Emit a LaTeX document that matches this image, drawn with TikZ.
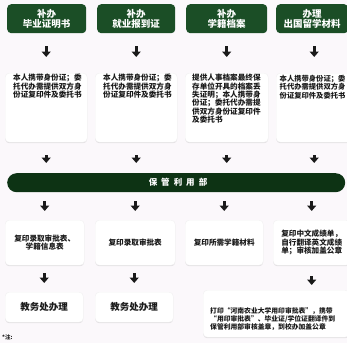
\documentclass[tikz,border=0pt]{standalone}
\usepackage{fontspec}
\setmainfont{Noto Sans CJK SC}
\usetikzlibrary{arrows.meta,shadows}
\definecolor{hdr}{HTML}{1B4E26}
\definecolor{bandc}{HTML}{0D3314}
\definecolor{bgc}{HTML}{FBF8FB}
\definecolor{ink}{HTML}{1A1A1A}
\tikzset{
  hdrbox/.style={fill=hdr, rounded corners=4pt, anchor=north west, inner sep=0pt,
    text=white, font=\fontsize{9.5}{10}\selectfont\bfseries, align=center},
  cardbox/.style={fill=white, draw=black!5, rounded corners=4pt, anchor=north west, inner sep=0pt,
    drop shadow={shadow xshift=0pt, shadow yshift=-1pt, opacity=0.10, fill=black}},
  cardtext/.style={anchor=north west, inner sep=0pt, text=ink, align=left,
    font=\fontsize{7.6}{8.4}\selectfont\bfseries},
  midtext/.style={text=ink, font=\fontsize{7.6}{8.6}\selectfont\bfseries},
  endtext/.style={text=ink, font=\fontsize{9.5}{10}\selectfont\bfseries},
  arr/.style={-{Triangle[width=9pt,length=5.5pt]}, line width=2.6pt, draw=ink},
}
\begin{document}
\begin{tikzpicture}[x=1pt,y=-1pt]
\fill[bgc] (0,0) rectangle (347,343);
\useasboundingbox (0,0) rectangle (347,343);

% headers
\node[hdrbox, minimum width=79pt, minimum height=29pt] (h1) at (7,4) {补办\\毕业证明书};
\node[hdrbox, minimum width=78pt, minimum height=29pt] (h2) at (97,4) {补办\\就业报到证};
\node[hdrbox, minimum width=81pt, minimum height=29pt] (h3) at (186,4) {补办\\学籍档案};
\node[hdrbox, minimum width=72pt, minimum height=29pt] (h4) at (276,4) {办理\\出国留学材料};

% row 1 cards
\node[cardbox, minimum width=82pt, minimum height=69pt] (c1) at (5,73) {};
\node[cardbox, minimum width=82pt, minimum height=69pt] (c2) at (95,73) {};
\node[cardbox, minimum width=83pt, minimum height=69pt] (c3) at (185,73) {};
\node[cardbox, minimum width=76pt, minimum height=69pt] (c4) at (276,73) {};
\node[cardtext] (t1) at (13,74) {本人携带身份证；委\\托代办需提供双方身\\份证复印件及委托书};
\node[cardtext] (t2) at (103,74) {本人携带身份证；委\\托代办需提供双方身\\份证复印件及委托书};
\node[cardtext] (t3) at (192,74) {提供人事档案最终保\\存单位开具的档案丢\\失证明；本人携带身\\份证；委托代办需提\\供双方身份证复印件\\及委托书};
\node[cardtext, font=\fontsize{7.3}{8.4}\selectfont\bfseries] (t4) at (279.5,75) {本人携带身份证；委\\托代办需提供双方身\\份证复印件及委托书};

% band
\node[fill=bandc, rounded corners=9.5pt, anchor=north west, minimum width=338pt, minimum height=19pt, inner sep=0pt] (band) at (7,173) {};
\node[text=white, font=\fontsize{8.5}{9}\selectfont\bfseries, inner sep=0pt] (bandt) at (178,182.5) {保\hspace{4pt}管\hspace{4pt}利\hspace{4pt}用\hspace{4pt}部};

% row 2 cards
\node[cardbox, midtext, align=center, minimum width=79pt, minimum height=45pt] (r1) at (5,220) {复印录取审批表、\\学籍信息表};
\node[cardbox, midtext, align=center, minimum width=80pt, minimum height=45pt] (r2) at (95,220) {复印录取审批表};
\node[cardbox, midtext, align=center, minimum width=78pt, minimum height=45pt] (r3) at (185,220) {复印所需学籍材料};
\node[cardbox, midtext, align=left, minimum width=77pt, minimum height=45pt] (r4) at (273,220) {复印中文成绩单，\\自行翻译英文成绩\\单；审核加盖公章};

% row 3
\node[cardbox, endtext, minimum width=78pt, minimum height=30pt] (e1) at (5,292) {教务处办理};
\node[cardbox, endtext, minimum width=78pt, minimum height=30pt] (e2) at (95,292) {教务处办理};
\node[cardbox, minimum width=146pt, minimum height=47pt] (e4) at (203,290) {};
\node[cardtext, font=\fontsize{6.8}{8.4}\selectfont\bfseries] (e4t) at (210,307) {打印“河南农业大学用印审批表”，携带\\“用印审批表”、毕业证/学位证翻译件到\\保管利用部审核盖章，到校办加盖公章};

\node[anchor=north west, inner sep=0pt, text=ink, font=\fontsize{5.5}{6}\selectfont\bfseries] (note) at (2,335) {*注:};

% arrows
\foreach \a/\b in {h1/c1,h2/c2,h3/c3,h4/c4}
  \draw[arr, shorten <=13pt, shorten >=16pt] (\b.north |- \a.south) -- (\b.north);
\foreach \a in {c1,c2,c3,c4}
  \draw[arr, shorten <=13pt, shorten >=10pt] (\a.south) -- (\a.south |- band.north);
\foreach \b in {r1,r2,r3,r4}
  \draw[arr, shorten <=9pt, shorten >=9pt] (\b.north |- band.south) -- (\b.north);
\foreach \a/\b in {r1/e1,r2/e2}
  \draw[arr, shorten <=8pt, shorten >=9pt] (\b.north |- \a.south) -- (\b.north);
\draw[arr, shorten <=11pt, shorten >=5pt] (r4.south) -- (r4.south |- e4.north);
\end{tikzpicture}
\end{document}
